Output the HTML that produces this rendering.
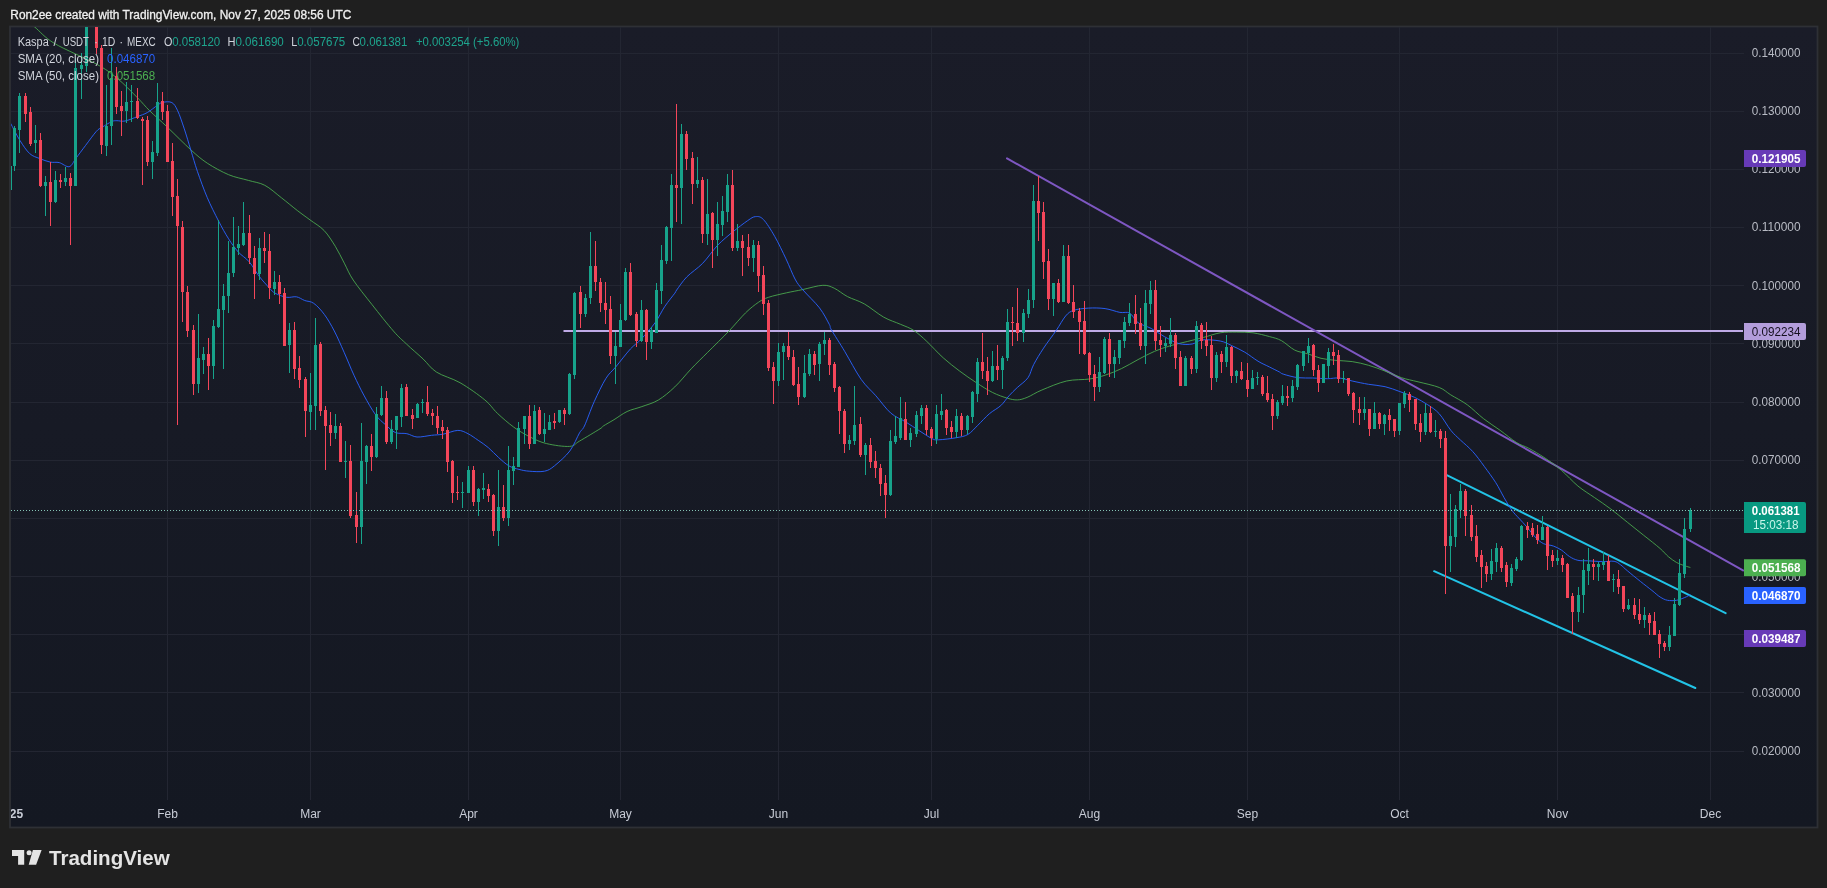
<!DOCTYPE html>
<html lang="en"><head><meta charset="utf-8"><title>Kaspa / USDT chart</title>
<style>
html,body{margin:0;padding:0;background:#1f1f1f;}
body{width:1827px;height:888px;overflow:hidden;}
svg{display:block;will-change:transform;}
text{font-family:"Liberation Sans", sans-serif;}
</style></head><body>
<svg width="1827" height="888" viewBox="0 0 1827 888">
<defs>
<linearGradient id="bg" x1="0" y1="0" x2="0" y2="1"><stop offset="0" stop-color="#1a1c28"/><stop offset="1" stop-color="#141822"/></linearGradient>
<clipPath id="pane"><rect x="11" y="27" width="1733" height="773"/></clipPath>
<clipPath id="full"><rect x="11" y="27" width="1806" height="800"/></clipPath>
</defs>
<rect width="1827" height="888" fill="#1f1f1f"/>
<rect x="10" y="26.5" width="1807.5" height="801" fill="url(#bg)" stroke="#2e3035" stroke-width="1.8"/>

<g stroke="#232632" stroke-width="1" shape-rendering="crispEdges">
<line x1="167.5" y1="27" x2="167.5" y2="800"/>
<line x1="310.5" y1="27" x2="310.5" y2="800"/>
<line x1="468.5" y1="27" x2="468.5" y2="800"/>
<line x1="620.5" y1="27" x2="620.5" y2="800"/>
<line x1="778.5" y1="27" x2="778.5" y2="800"/>
<line x1="931.5" y1="27" x2="931.5" y2="800"/>
<line x1="1089.5" y1="27" x2="1089.5" y2="800"/>
<line x1="1247.5" y1="27" x2="1247.5" y2="800"/>
<line x1="1399.5" y1="27" x2="1399.5" y2="800"/>
<line x1="1557.5" y1="27" x2="1557.5" y2="800"/>
<line x1="1710.5" y1="27" x2="1710.5" y2="800"/>
<line x1="11" y1="751.5" x2="1744" y2="751.5"/>
<line x1="11" y1="692.5" x2="1744" y2="692.5"/>
<line x1="11" y1="634.5" x2="1744" y2="634.5"/>
<line x1="11" y1="576.5" x2="1744" y2="576.5"/>
<line x1="11" y1="518.5" x2="1744" y2="518.5"/>
<line x1="11" y1="460.5" x2="1744" y2="460.5"/>
<line x1="11" y1="402.5" x2="1744" y2="402.5"/>
<line x1="11" y1="343.5" x2="1744" y2="343.5"/>
<line x1="11" y1="285.5" x2="1744" y2="285.5"/>
<line x1="11" y1="227.5" x2="1744" y2="227.5"/>
<line x1="11" y1="169.5" x2="1744" y2="169.5"/>
<line x1="11" y1="111.5" x2="1744" y2="111.5"/>
<line x1="11" y1="53.5" x2="1744" y2="53.5"/>
</g>
<g clip-path="url(#pane)" fill="none" stroke-linejoin="round" stroke-linecap="round">
<line x1="563.5" y1="331" x2="1743" y2="331" stroke="#bfaae6" stroke-width="2" stroke-linecap="butt"/>
<line x1="1007" y1="158.4" x2="1743" y2="570.4" stroke="#7e57c2" stroke-width="2"/>
<line x1="1447.3" y1="475.3" x2="1725.6" y2="613.2" stroke="#22c3e6" stroke-width="2"/>
<line x1="1434.1" y1="571.2" x2="1695.3" y2="688" stroke="#22c3e6" stroke-width="2"/>
<path d="M20.0 15.0C22.4 17.0 29.0 22.3 34.7 27.0C40.4 31.7 44.1 37.2 54.4 43.4C64.7 49.6 85.9 58.2 96.3 64.0C106.7 69.8 110.1 72.4 116.9 78.0C123.8 83.6 131.9 92.2 137.4 97.7C142.9 103.2 144.7 105.9 149.7 110.8C154.7 115.7 160.7 120.8 167.5 127.3C174.3 133.8 184.2 143.8 190.8 149.8C197.4 155.8 201.0 159.0 207.3 163.2C213.6 167.3 221.8 171.8 228.6 174.7C235.4 177.6 242.4 178.6 248.4 180.4C254.4 182.2 259.3 182.4 264.8 185.3C270.3 188.2 275.8 193.4 281.3 197.7C286.8 201.9 292.9 207.1 297.7 210.8C302.5 214.5 305.6 216.6 310.0 219.9C314.4 223.2 319.9 226.1 324.1 230.5C328.3 234.9 331.9 240.9 335.3 246.3C338.7 251.8 341.3 257.6 344.3 263.2C347.3 268.8 348.6 273.1 353.2 280.0C357.8 286.9 365.4 296.2 372.1 304.7C378.8 313.2 387.6 324.4 393.4 331.0C399.1 337.6 401.7 339.5 406.6 344.1C411.5 348.8 418.0 354.2 423.0 358.9C428.0 363.6 430.3 368.1 436.5 372.1C442.7 376.1 451.9 378.1 460.0 382.7C468.1 387.3 478.7 394.9 484.9 400.0C491.1 405.1 492.5 408.7 497.3 413.2C502.1 417.7 508.2 423.1 513.7 427.1C519.2 431.1 524.6 434.2 530.1 437.0C535.6 439.8 540.0 442.0 546.6 443.6C553.2 445.2 564.1 446.8 569.6 446.4C575.1 446.0 574.4 444.0 579.5 441.1C584.6 438.2 596.0 431.3 600.0 428.8C604.0 426.3 601.0 427.5 603.3 426.0C605.6 424.5 610.0 422.1 614.0 419.7C618.0 417.3 622.5 413.7 627.1 411.5C631.8 409.3 636.7 408.5 641.9 406.6C647.1 404.7 652.9 403.3 658.4 400.0C663.9 396.7 669.3 392.1 674.8 386.9C680.3 381.7 685.7 374.6 691.2 368.8C696.7 363.0 701.4 358.6 707.7 352.3C714.0 346.0 722.7 337.6 729.0 331.0C735.3 324.4 740.6 317.7 745.5 312.9C750.4 308.1 754.8 304.8 758.6 302.2C762.4 299.6 763.8 298.9 768.5 297.3C773.2 295.7 780.9 294.1 786.6 292.8C792.4 291.5 797.0 290.8 803.0 289.5C809.0 288.2 817.6 285.5 822.8 285.3C828.0 285.1 830.1 286.3 834.2 288.2C838.3 290.1 842.5 294.0 847.5 296.6C852.5 299.2 858.3 300.5 864.3 303.9C870.3 307.3 877.6 313.7 883.6 317.1C889.6 320.5 895.5 322.1 900.5 324.3C905.5 326.5 909.3 327.5 913.7 330.4C918.1 333.3 922.0 336.9 926.9 341.5C931.8 346.1 937.8 353.0 943.3 357.9C948.8 362.8 954.2 367.0 959.7 371.1C965.2 375.2 970.7 379.0 976.2 382.6C981.7 386.2 987.4 389.9 992.6 392.5C997.8 395.1 1003.3 397.0 1007.4 398.2C1011.5 399.4 1014.0 400.0 1017.3 399.9C1020.6 399.8 1023.0 399.0 1027.1 397.4C1031.2 395.8 1035.3 392.7 1041.9 390.0C1048.5 387.3 1058.6 382.8 1066.6 381.0C1074.5 379.2 1083.2 380.0 1089.6 379.0C1096.0 378.0 1099.8 376.9 1105.1 375.2C1110.4 373.5 1116.0 371.2 1121.5 368.6C1127.0 366.0 1132.5 362.5 1138.0 359.6C1143.5 356.7 1148.9 353.7 1154.4 351.4C1159.9 349.1 1165.3 347.2 1170.8 345.6C1176.3 344.0 1181.8 342.9 1187.3 341.5C1192.8 340.1 1198.2 338.8 1203.7 337.4C1209.2 335.9 1214.7 333.7 1220.2 332.8C1225.7 331.9 1231.1 332.1 1236.6 332.1C1242.1 332.1 1247.5 332.1 1253.0 332.8C1258.5 333.6 1264.8 335.3 1269.5 336.6C1274.2 337.9 1277.3 338.4 1281.5 340.7C1285.7 342.9 1290.3 347.9 1294.7 350.1C1299.1 352.3 1303.4 352.4 1307.8 353.8C1312.2 355.2 1316.3 357.2 1321.0 358.3C1325.7 359.4 1330.6 359.8 1335.8 360.4C1341.0 360.9 1346.7 360.8 1352.2 361.6C1357.7 362.4 1363.1 363.7 1368.6 365.3C1374.1 366.9 1379.6 369.0 1385.1 371.1C1390.6 373.2 1396.0 375.9 1401.5 377.7C1407.0 379.5 1411.7 380.2 1418.0 381.8C1424.3 383.4 1433.8 385.3 1439.3 387.5C1444.8 389.7 1446.1 392.0 1450.8 394.9C1455.5 397.8 1461.8 400.8 1467.3 404.8C1472.8 408.8 1478.2 414.6 1483.7 418.8C1489.2 423.1 1494.6 426.3 1500.1 430.3C1505.6 434.3 1511.8 439.6 1516.6 442.6C1521.3 445.6 1523.8 445.6 1528.6 448.2C1533.3 450.8 1539.6 454.4 1545.1 458.1C1550.6 461.8 1556.0 465.8 1561.5 470.4C1567.0 475.0 1572.4 481.5 1577.9 486.0C1583.4 490.5 1588.9 493.7 1594.4 497.5C1599.9 501.3 1605.3 504.9 1610.8 509.0C1616.3 513.1 1621.8 517.8 1627.3 522.2C1632.8 526.6 1638.2 530.9 1643.7 535.3C1649.2 539.7 1656.0 544.9 1660.1 548.5C1664.2 552.1 1665.7 554.4 1668.4 556.7C1671.2 559.0 1673.9 561.0 1676.6 562.5C1679.3 564.0 1682.6 565.0 1684.8 565.8C1687.0 566.6 1689.1 567.1 1690.0 567.4" stroke="#4caf50" stroke-width="1" opacity="0.85"/>
<path d="M4.0 112.0C5.0 113.7 7.3 117.6 10.0 122.3C12.7 127.0 16.6 135.2 19.9 140.4C23.2 145.6 26.4 150.6 29.7 153.6C33.0 156.6 36.2 157.1 39.6 158.5C43.0 159.9 47.0 161.4 50.3 162.1C53.6 162.8 56.1 161.8 59.3 162.6C62.4 163.4 66.5 167.4 69.2 166.7C72.0 166.0 73.1 162.1 75.8 158.5C78.5 154.9 82.2 149.9 85.6 145.4C89.0 140.9 93.6 134.4 96.3 131.4C99.0 128.4 99.4 128.9 102.0 127.3C104.6 125.6 109.4 122.6 111.9 121.5C114.4 120.4 114.7 120.8 116.9 120.7C119.1 120.6 121.7 121.7 125.1 121.0C128.5 120.3 133.7 118.0 137.4 116.6C141.1 115.2 144.0 114.4 147.4 112.5C150.8 110.6 155.0 106.8 157.6 105.1C160.2 103.4 160.5 102.7 162.9 102.3C165.3 101.9 169.4 101.2 171.9 102.6C174.4 104.0 175.6 106.4 177.7 110.8C179.8 115.2 182.1 122.4 184.3 128.9C186.5 135.4 188.6 142.9 190.8 150.0C193.0 157.1 194.7 163.5 197.4 171.4C200.2 179.3 203.8 189.5 207.3 197.7C210.8 205.9 214.9 213.8 218.4 220.7C221.9 227.5 225.3 233.6 228.6 238.8C231.9 244.0 234.9 248.2 238.3 252.0C241.7 255.8 245.7 257.7 249.2 261.8C252.7 265.9 256.0 272.2 259.4 276.6C262.8 281.0 266.8 285.2 269.4 288.0C272.0 290.8 272.2 291.6 275.1 293.2C278.0 294.8 283.1 296.7 286.6 297.3C290.2 297.9 293.4 296.3 296.4 296.8C299.4 297.3 301.8 299.4 304.7 300.5C307.6 301.6 310.4 301.0 313.7 303.3C317.0 305.6 321.0 309.9 324.4 314.5C327.8 319.1 331.0 324.7 334.3 331.0C337.6 337.3 340.8 344.9 344.1 352.3C347.4 359.7 350.7 368.2 354.0 375.3C357.3 382.4 360.2 388.5 363.8 395.1C367.4 401.7 372.0 409.9 375.6 414.8C379.2 419.7 382.2 421.8 385.5 424.7C388.8 427.6 391.7 431.0 395.3 432.5C398.9 434.0 403.3 432.9 406.9 433.7C410.5 434.4 412.9 436.7 417.0 437.0C421.1 437.3 427.2 435.8 431.5 435.3C435.8 434.8 438.6 435.0 443.0 434.2C447.4 433.4 453.6 430.5 457.8 430.4C462.0 430.3 464.6 432.0 468.0 433.7C471.4 435.4 474.8 438.0 478.2 440.3C481.6 442.6 485.0 444.8 488.4 447.7C491.8 450.6 495.2 454.5 498.6 457.5C502.0 460.5 505.4 463.8 508.8 465.8C512.2 467.8 515.6 468.5 519.0 469.4C522.4 470.3 525.0 470.9 529.2 471.2C533.5 471.5 540.3 472.1 544.5 471.2C548.7 470.3 550.3 469.2 554.5 465.8C558.7 462.4 565.6 456.5 569.8 451.0C574.0 445.5 577.1 437.1 579.5 432.9C581.9 428.7 581.9 431.2 584.4 426.0C586.9 420.8 590.6 409.6 594.2 401.7C597.8 393.8 602.2 384.4 605.8 378.6C609.4 372.8 611.5 372.0 615.6 367.1C619.7 362.2 626.1 353.6 630.4 349.0C634.6 344.4 637.0 343.6 641.1 339.2C645.2 334.8 651.1 328.2 655.1 322.7C659.1 317.2 661.6 311.2 664.9 306.3C668.2 301.4 672.8 295.9 674.8 293.2C676.8 290.5 674.7 292.7 676.7 290.0C678.7 287.3 682.5 281.3 686.8 276.9C691.1 272.5 697.5 268.6 702.6 263.4C707.7 258.1 712.5 250.7 717.5 245.4C722.5 240.2 727.8 236.0 732.8 231.9C737.8 227.8 743.9 223.2 747.7 220.6C751.5 218.0 752.9 216.8 755.5 216.6C758.1 216.4 760.2 216.2 763.4 219.5C766.6 222.8 770.9 229.8 774.7 236.4C778.5 243.0 782.6 251.8 786.0 258.9C789.4 266.0 792.2 273.8 795.0 279.0C797.8 284.2 798.9 285.2 803.0 290.0C807.1 294.8 815.1 302.2 819.5 307.9C823.9 313.6 827.3 320.7 829.3 324.4C831.3 328.1 828.9 325.5 831.5 330.0C834.1 334.5 839.8 343.2 844.7 351.4C849.6 359.6 855.9 371.9 861.1 379.3C866.3 386.7 871.0 390.2 875.9 395.8C880.8 401.4 885.7 408.6 890.7 413.0C895.7 417.4 901.4 419.2 906.0 422.1C910.6 425.0 914.3 427.6 918.6 430.3C922.9 433.0 928.5 436.9 931.8 438.5C935.1 440.1 934.3 439.9 938.4 439.8C942.5 439.7 951.5 438.6 956.4 437.7C961.3 436.8 964.4 436.5 968.0 434.4C971.6 432.3 974.2 428.7 977.8 425.3C981.3 421.9 985.5 417.1 989.3 413.8C993.1 410.5 997.5 408.6 1000.8 405.6C1004.1 402.6 1006.2 398.8 1009.0 395.8C1011.8 392.8 1014.1 390.5 1017.3 387.5C1020.5 384.5 1025.3 381.5 1028.0 377.7C1030.7 373.9 1031.1 369.4 1033.7 364.5C1036.3 359.6 1039.8 353.8 1043.6 348.1C1047.3 342.4 1052.5 335.9 1056.2 330.5C1059.9 325.1 1062.7 319.4 1065.6 316.0C1068.5 312.6 1070.0 311.6 1073.8 310.3C1077.6 309.0 1083.4 308.4 1088.6 308.1C1093.8 307.8 1099.9 307.9 1105.1 308.6C1110.3 309.3 1115.8 311.6 1119.9 312.4C1124.0 313.1 1126.7 311.4 1129.7 313.1C1132.7 314.8 1134.4 320.1 1138.0 322.6C1141.6 325.2 1146.7 326.1 1151.1 328.4C1155.5 330.7 1159.6 334.1 1164.3 336.6C1169.0 339.1 1174.3 342.4 1179.0 343.6C1183.7 344.8 1188.4 344.6 1192.2 344.0C1196.0 343.4 1197.4 340.4 1202.1 339.9C1206.8 339.4 1215.3 340.1 1220.2 341.0C1225.1 341.9 1227.6 343.7 1231.7 345.6C1235.8 347.5 1240.4 349.6 1244.8 352.2C1249.2 354.8 1253.9 358.7 1258.0 361.2C1262.1 363.7 1266.0 365.2 1269.5 367.0C1273.0 368.8 1277.0 370.7 1279.3 371.9C1281.6 373.1 1280.1 373.1 1283.2 374.1C1286.3 375.1 1293.2 377.1 1298.1 377.7C1303.0 378.3 1307.8 377.8 1312.7 378.0C1317.6 378.2 1323.1 378.7 1327.5 378.7C1331.9 378.7 1334.9 377.6 1339.0 378.0C1343.1 378.4 1347.3 379.9 1352.2 381.0C1357.1 382.1 1363.1 383.4 1368.6 384.3C1374.1 385.2 1379.9 385.5 1385.1 386.7C1390.3 387.9 1395.0 389.8 1399.9 391.6C1404.8 393.4 1410.1 395.2 1414.7 397.4C1419.3 399.6 1423.7 402.1 1427.8 404.8C1431.9 407.5 1435.5 409.6 1439.3 413.8C1443.1 418.1 1447.3 425.9 1450.8 430.3C1454.3 434.7 1456.8 436.5 1460.4 440.0C1464.1 443.5 1468.7 447.1 1472.7 451.5C1476.7 455.9 1480.4 461.1 1484.2 466.3C1488.0 471.5 1492.5 477.5 1495.8 482.7C1499.1 487.9 1501.3 492.8 1504.0 497.5C1506.7 502.2 1509.7 507.3 1512.2 510.7C1514.7 514.1 1516.3 515.4 1518.8 518.1C1521.3 520.8 1524.3 524.0 1527.0 527.1C1529.7 530.2 1532.5 534.2 1535.2 537.0C1537.9 539.8 1540.4 542.1 1543.4 543.6C1546.4 545.1 1550.3 544.9 1553.3 546.0C1556.3 547.1 1558.8 548.3 1561.5 550.1C1564.2 551.9 1567.0 555.0 1569.7 556.7C1572.4 558.4 1574.9 559.6 1577.9 560.3C1580.9 561.0 1583.7 560.6 1587.8 560.8C1591.9 561.0 1598.2 561.5 1602.6 561.6C1607.0 561.7 1611.1 560.8 1614.1 561.3C1617.1 561.8 1618.5 563.3 1620.7 564.9C1622.9 566.5 1624.0 568.0 1627.3 570.7C1630.6 573.5 1636.3 578.1 1640.4 581.4C1644.5 584.7 1648.6 587.8 1651.9 590.4C1655.2 593.0 1657.5 595.4 1660.1 597.0C1662.7 598.6 1664.8 599.8 1667.5 600.3C1670.2 600.8 1673.7 600.8 1676.6 600.3C1679.5 599.8 1682.6 598.4 1684.8 597.5C1687.0 596.6 1689.1 595.3 1690.0 594.9" stroke="#2962ff" stroke-width="1" opacity="0.92"/>
</g>
<g clip-path="url(#pane)" shape-rendering="crispEdges">
<rect x="14" y="126" width="1" height="45" fill="#17a38b"/>
<rect x="13" y="128" width="3" height="38" fill="#17a38b"/>
<rect x="19" y="93" width="1" height="60" fill="#17a38b"/>
<rect x="18" y="96" width="3" height="34" fill="#17a38b"/>
<rect x="25" y="93" width="1" height="29" fill="#f4465a"/>
<rect x="24" y="96" width="3" height="18" fill="#f4465a"/>
<rect x="30" y="107" width="1" height="39" fill="#f4465a"/>
<rect x="29" y="112" width="3" height="32" fill="#f4465a"/>
<rect x="35" y="125" width="1" height="28" fill="#17a38b"/>
<rect x="34" y="140" width="3" height="3" fill="#17a38b"/>
<rect x="40" y="133" width="1" height="54" fill="#f4465a"/>
<rect x="39" y="140" width="3" height="46" fill="#f4465a"/>
<rect x="45" y="176" width="1" height="40" fill="#17a38b"/>
<rect x="44" y="182" width="3" height="4" fill="#17a38b"/>
<rect x="50" y="162" width="1" height="64" fill="#f4465a"/>
<rect x="49" y="182" width="3" height="20" fill="#f4465a"/>
<rect x="55" y="171" width="1" height="32" fill="#17a38b"/>
<rect x="54" y="180" width="3" height="22" fill="#17a38b"/>
<rect x="60" y="174" width="1" height="14" fill="#f4465a"/>
<rect x="59" y="180" width="3" height="2" fill="#f4465a"/>
<rect x="65" y="167" width="1" height="19" fill="#17a38b"/>
<rect x="64" y="178" width="3" height="4" fill="#17a38b"/>
<rect x="70" y="173" width="1" height="72" fill="#f4465a"/>
<rect x="69" y="178" width="3" height="8" fill="#f4465a"/>
<rect x="75" y="58" width="1" height="128" fill="#17a38b"/>
<rect x="74" y="68" width="3" height="118" fill="#17a38b"/>
<rect x="81" y="53" width="1" height="46" fill="#17a38b"/>
<rect x="80" y="65" width="3" height="4" fill="#17a38b"/>
<rect x="86" y="0" width="1" height="72" fill="#17a38b"/>
<rect x="85" y="10" width="3" height="56" fill="#17a38b"/>
<rect x="96" y="0" width="1" height="54" fill="#f4465a"/>
<rect x="95" y="10" width="3" height="38" fill="#f4465a"/>
<rect x="101" y="45" width="1" height="109" fill="#f4465a"/>
<rect x="100" y="48" width="3" height="97" fill="#f4465a"/>
<rect x="106" y="85" width="1" height="71" fill="#17a38b"/>
<rect x="105" y="126" width="3" height="20" fill="#17a38b"/>
<rect x="111" y="48" width="1" height="97" fill="#17a38b"/>
<rect x="110" y="78" width="3" height="48" fill="#17a38b"/>
<rect x="116" y="67" width="1" height="47" fill="#f4465a"/>
<rect x="115" y="76" width="3" height="31" fill="#f4465a"/>
<rect x="121" y="91" width="1" height="45" fill="#f4465a"/>
<rect x="120" y="106" width="3" height="5" fill="#f4465a"/>
<rect x="126" y="82" width="1" height="41" fill="#17a38b"/>
<rect x="125" y="102" width="3" height="9" fill="#17a38b"/>
<rect x="131" y="85" width="1" height="37" fill="#17a38b"/>
<rect x="130" y="101" width="3" height="1" fill="#17a38b"/>
<rect x="137" y="88" width="1" height="31" fill="#f4465a"/>
<rect x="136" y="101" width="3" height="17" fill="#f4465a"/>
<rect x="142" y="117" width="1" height="68" fill="#f4465a"/>
<rect x="141" y="119" width="3" height="2" fill="#f4465a"/>
<rect x="147" y="116" width="1" height="50" fill="#f4465a"/>
<rect x="146" y="120" width="3" height="42" fill="#f4465a"/>
<rect x="152" y="141" width="1" height="38" fill="#17a38b"/>
<rect x="151" y="152" width="3" height="10" fill="#17a38b"/>
<rect x="157" y="83" width="1" height="73" fill="#17a38b"/>
<rect x="156" y="102" width="3" height="51" fill="#17a38b"/>
<rect x="162" y="92" width="1" height="28" fill="#f4465a"/>
<rect x="161" y="101" width="3" height="11" fill="#f4465a"/>
<rect x="167" y="105" width="1" height="57" fill="#f4465a"/>
<rect x="166" y="111" width="3" height="51" fill="#f4465a"/>
<rect x="172" y="143" width="1" height="73" fill="#f4465a"/>
<rect x="171" y="161" width="3" height="36" fill="#f4465a"/>
<rect x="177" y="179" width="1" height="246" fill="#f4465a"/>
<rect x="176" y="196" width="3" height="30" fill="#f4465a"/>
<rect x="182" y="221" width="1" height="101" fill="#f4465a"/>
<rect x="181" y="227" width="3" height="65" fill="#f4465a"/>
<rect x="187" y="286" width="1" height="51" fill="#f4465a"/>
<rect x="186" y="292" width="3" height="39" fill="#f4465a"/>
<rect x="193" y="325" width="1" height="70" fill="#f4465a"/>
<rect x="192" y="330" width="3" height="54" fill="#f4465a"/>
<rect x="198" y="314" width="1" height="79" fill="#17a38b"/>
<rect x="197" y="358" width="3" height="26" fill="#17a38b"/>
<rect x="203" y="347" width="1" height="27" fill="#17a38b"/>
<rect x="202" y="354" width="3" height="6" fill="#17a38b"/>
<rect x="208" y="338" width="1" height="52" fill="#f4465a"/>
<rect x="207" y="354" width="3" height="12" fill="#f4465a"/>
<rect x="213" y="320" width="1" height="59" fill="#17a38b"/>
<rect x="212" y="326" width="3" height="40" fill="#17a38b"/>
<rect x="218" y="220" width="1" height="108" fill="#17a38b"/>
<rect x="217" y="309" width="3" height="18" fill="#17a38b"/>
<rect x="223" y="284" width="1" height="85" fill="#17a38b"/>
<rect x="222" y="296" width="3" height="14" fill="#17a38b"/>
<rect x="228" y="241" width="1" height="72" fill="#17a38b"/>
<rect x="227" y="273" width="3" height="23" fill="#17a38b"/>
<rect x="233" y="217" width="1" height="60" fill="#17a38b"/>
<rect x="232" y="247" width="3" height="26" fill="#17a38b"/>
<rect x="238" y="226" width="1" height="29" fill="#17a38b"/>
<rect x="237" y="244" width="3" height="4" fill="#17a38b"/>
<rect x="243" y="202" width="1" height="44" fill="#17a38b"/>
<rect x="242" y="233" width="3" height="12" fill="#17a38b"/>
<rect x="249" y="215" width="1" height="49" fill="#f4465a"/>
<rect x="248" y="233" width="3" height="25" fill="#f4465a"/>
<rect x="254" y="246" width="1" height="53" fill="#f4465a"/>
<rect x="253" y="258" width="3" height="16" fill="#f4465a"/>
<rect x="259" y="238" width="1" height="42" fill="#17a38b"/>
<rect x="258" y="248" width="3" height="26" fill="#17a38b"/>
<rect x="264" y="232" width="1" height="31" fill="#f4465a"/>
<rect x="263" y="248" width="3" height="3" fill="#f4465a"/>
<rect x="269" y="234" width="1" height="65" fill="#f4465a"/>
<rect x="268" y="251" width="3" height="37" fill="#f4465a"/>
<rect x="274" y="271" width="1" height="24" fill="#17a38b"/>
<rect x="273" y="282" width="3" height="7" fill="#17a38b"/>
<rect x="279" y="275" width="1" height="29" fill="#f4465a"/>
<rect x="278" y="282" width="3" height="12" fill="#f4465a"/>
<rect x="284" y="288" width="1" height="58" fill="#f4465a"/>
<rect x="283" y="293" width="3" height="53" fill="#f4465a"/>
<rect x="289" y="323" width="1" height="50" fill="#17a38b"/>
<rect x="288" y="330" width="3" height="15" fill="#17a38b"/>
<rect x="294" y="322" width="1" height="57" fill="#f4465a"/>
<rect x="293" y="330" width="3" height="39" fill="#f4465a"/>
<rect x="299" y="356" width="1" height="32" fill="#f4465a"/>
<rect x="298" y="368" width="3" height="12" fill="#f4465a"/>
<rect x="305" y="377" width="1" height="60" fill="#f4465a"/>
<rect x="304" y="379" width="3" height="32" fill="#f4465a"/>
<rect x="310" y="373" width="1" height="57" fill="#17a38b"/>
<rect x="309" y="405" width="3" height="7" fill="#17a38b"/>
<rect x="315" y="318" width="1" height="112" fill="#17a38b"/>
<rect x="314" y="345" width="3" height="61" fill="#17a38b"/>
<rect x="320" y="342" width="1" height="74" fill="#f4465a"/>
<rect x="319" y="344" width="3" height="67" fill="#f4465a"/>
<rect x="325" y="406" width="1" height="64" fill="#f4465a"/>
<rect x="324" y="410" width="3" height="16" fill="#f4465a"/>
<rect x="330" y="412" width="1" height="34" fill="#f4465a"/>
<rect x="329" y="425" width="3" height="8" fill="#f4465a"/>
<rect x="335" y="414" width="1" height="25" fill="#17a38b"/>
<rect x="334" y="426" width="3" height="7" fill="#17a38b"/>
<rect x="340" y="423" width="1" height="39" fill="#f4465a"/>
<rect x="339" y="426" width="3" height="36" fill="#f4465a"/>
<rect x="345" y="441" width="1" height="37" fill="#17a38b"/>
<rect x="344" y="461" width="3" height="1" fill="#17a38b"/>
<rect x="350" y="445" width="1" height="73" fill="#f4465a"/>
<rect x="349" y="461" width="3" height="55" fill="#f4465a"/>
<rect x="356" y="492" width="1" height="51" fill="#f4465a"/>
<rect x="355" y="515" width="3" height="12" fill="#f4465a"/>
<rect x="361" y="423" width="1" height="121" fill="#17a38b"/>
<rect x="360" y="461" width="3" height="66" fill="#17a38b"/>
<rect x="366" y="445" width="1" height="39" fill="#17a38b"/>
<rect x="365" y="446" width="3" height="16" fill="#17a38b"/>
<rect x="371" y="434" width="1" height="37" fill="#f4465a"/>
<rect x="370" y="446" width="3" height="11" fill="#f4465a"/>
<rect x="376" y="407" width="1" height="51" fill="#17a38b"/>
<rect x="375" y="414" width="3" height="43" fill="#17a38b"/>
<rect x="381" y="386" width="1" height="30" fill="#17a38b"/>
<rect x="380" y="398" width="3" height="17" fill="#17a38b"/>
<rect x="386" y="391" width="1" height="53" fill="#f4465a"/>
<rect x="385" y="398" width="3" height="44" fill="#f4465a"/>
<rect x="391" y="420" width="1" height="24" fill="#17a38b"/>
<rect x="390" y="429" width="3" height="13" fill="#17a38b"/>
<rect x="396" y="416" width="1" height="33" fill="#17a38b"/>
<rect x="395" y="416" width="3" height="14" fill="#17a38b"/>
<rect x="401" y="384" width="1" height="43" fill="#17a38b"/>
<rect x="400" y="388" width="3" height="29" fill="#17a38b"/>
<rect x="406" y="384" width="1" height="32" fill="#f4465a"/>
<rect x="405" y="387" width="3" height="29" fill="#f4465a"/>
<rect x="412" y="409" width="1" height="20" fill="#f4465a"/>
<rect x="411" y="415" width="3" height="4" fill="#f4465a"/>
<rect x="417" y="403" width="1" height="15" fill="#17a38b"/>
<rect x="416" y="404" width="3" height="14" fill="#17a38b"/>
<rect x="422" y="399" width="1" height="14" fill="#17a38b"/>
<rect x="421" y="402" width="3" height="1" fill="#17a38b"/>
<rect x="427" y="386" width="1" height="30" fill="#f4465a"/>
<rect x="426" y="402" width="3" height="12" fill="#f4465a"/>
<rect x="432" y="409" width="1" height="16" fill="#f4465a"/>
<rect x="431" y="413" width="3" height="3" fill="#f4465a"/>
<rect x="437" y="406" width="1" height="28" fill="#f4465a"/>
<rect x="436" y="416" width="3" height="12" fill="#f4465a"/>
<rect x="442" y="420" width="1" height="19" fill="#f4465a"/>
<rect x="441" y="427" width="3" height="4" fill="#f4465a"/>
<rect x="447" y="427" width="1" height="45" fill="#f4465a"/>
<rect x="446" y="430" width="3" height="32" fill="#f4465a"/>
<rect x="452" y="460" width="1" height="43" fill="#f4465a"/>
<rect x="451" y="461" width="3" height="32" fill="#f4465a"/>
<rect x="457" y="476" width="1" height="24" fill="#f4465a"/>
<rect x="456" y="492" width="3" height="1" fill="#f4465a"/>
<rect x="462" y="482" width="1" height="26" fill="#17a38b"/>
<rect x="461" y="492" width="3" height="1" fill="#17a38b"/>
<rect x="468" y="466" width="1" height="27" fill="#17a38b"/>
<rect x="467" y="470" width="3" height="23" fill="#17a38b"/>
<rect x="473" y="466" width="1" height="40" fill="#f4465a"/>
<rect x="472" y="470" width="3" height="32" fill="#f4465a"/>
<rect x="478" y="488" width="1" height="28" fill="#17a38b"/>
<rect x="477" y="489" width="3" height="13" fill="#17a38b"/>
<rect x="483" y="473" width="1" height="26" fill="#17a38b"/>
<rect x="482" y="488" width="3" height="2" fill="#17a38b"/>
<rect x="488" y="484" width="1" height="18" fill="#f4465a"/>
<rect x="487" y="489" width="3" height="7" fill="#f4465a"/>
<rect x="493" y="494" width="1" height="42" fill="#f4465a"/>
<rect x="492" y="495" width="3" height="36" fill="#f4465a"/>
<rect x="498" y="470" width="1" height="76" fill="#17a38b"/>
<rect x="497" y="507" width="3" height="24" fill="#17a38b"/>
<rect x="503" y="485" width="1" height="36" fill="#f4465a"/>
<rect x="502" y="507" width="3" height="11" fill="#f4465a"/>
<rect x="508" y="446" width="1" height="80" fill="#17a38b"/>
<rect x="507" y="470" width="3" height="48" fill="#17a38b"/>
<rect x="513" y="457" width="1" height="28" fill="#17a38b"/>
<rect x="512" y="466" width="3" height="5" fill="#17a38b"/>
<rect x="518" y="422" width="1" height="45" fill="#17a38b"/>
<rect x="517" y="428" width="3" height="39" fill="#17a38b"/>
<rect x="524" y="416" width="1" height="28" fill="#17a38b"/>
<rect x="523" y="416" width="3" height="13" fill="#17a38b"/>
<rect x="529" y="405" width="1" height="44" fill="#f4465a"/>
<rect x="528" y="416" width="3" height="28" fill="#f4465a"/>
<rect x="534" y="405" width="1" height="39" fill="#17a38b"/>
<rect x="533" y="411" width="3" height="33" fill="#17a38b"/>
<rect x="539" y="407" width="1" height="28" fill="#f4465a"/>
<rect x="538" y="410" width="3" height="24" fill="#f4465a"/>
<rect x="544" y="413" width="1" height="29" fill="#17a38b"/>
<rect x="543" y="429" width="3" height="5" fill="#17a38b"/>
<rect x="549" y="415" width="1" height="15" fill="#17a38b"/>
<rect x="548" y="422" width="3" height="8" fill="#17a38b"/>
<rect x="554" y="413" width="1" height="16" fill="#f4465a"/>
<rect x="553" y="421" width="3" height="2" fill="#f4465a"/>
<rect x="559" y="410" width="1" height="13" fill="#17a38b"/>
<rect x="558" y="410" width="3" height="12" fill="#17a38b"/>
<rect x="564" y="408" width="1" height="17" fill="#f4465a"/>
<rect x="563" y="410" width="3" height="4" fill="#f4465a"/>
<rect x="569" y="373" width="1" height="42" fill="#17a38b"/>
<rect x="568" y="374" width="3" height="40" fill="#17a38b"/>
<rect x="574" y="292" width="1" height="87" fill="#17a38b"/>
<rect x="573" y="293" width="3" height="82" fill="#17a38b"/>
<rect x="580" y="286" width="1" height="42" fill="#f4465a"/>
<rect x="579" y="292" width="3" height="22" fill="#f4465a"/>
<rect x="585" y="294" width="1" height="23" fill="#17a38b"/>
<rect x="584" y="298" width="3" height="16" fill="#17a38b"/>
<rect x="590" y="232" width="1" height="72" fill="#17a38b"/>
<rect x="589" y="266" width="3" height="32" fill="#17a38b"/>
<rect x="595" y="241" width="1" height="50" fill="#f4465a"/>
<rect x="594" y="266" width="3" height="16" fill="#f4465a"/>
<rect x="600" y="278" width="1" height="34" fill="#f4465a"/>
<rect x="599" y="282" width="3" height="21" fill="#f4465a"/>
<rect x="605" y="282" width="1" height="42" fill="#f4465a"/>
<rect x="604" y="303" width="3" height="7" fill="#f4465a"/>
<rect x="610" y="296" width="1" height="68" fill="#f4465a"/>
<rect x="609" y="309" width="3" height="47" fill="#f4465a"/>
<rect x="615" y="332" width="1" height="52" fill="#17a38b"/>
<rect x="614" y="346" width="3" height="10" fill="#17a38b"/>
<rect x="620" y="304" width="1" height="43" fill="#17a38b"/>
<rect x="619" y="320" width="3" height="27" fill="#17a38b"/>
<rect x="625" y="268" width="1" height="53" fill="#17a38b"/>
<rect x="624" y="272" width="3" height="48" fill="#17a38b"/>
<rect x="630" y="263" width="1" height="53" fill="#f4465a"/>
<rect x="629" y="272" width="3" height="43" fill="#f4465a"/>
<rect x="636" y="312" width="1" height="35" fill="#f4465a"/>
<rect x="635" y="314" width="3" height="27" fill="#f4465a"/>
<rect x="641" y="300" width="1" height="42" fill="#17a38b"/>
<rect x="640" y="310" width="3" height="31" fill="#17a38b"/>
<rect x="646" y="309" width="1" height="51" fill="#f4465a"/>
<rect x="645" y="310" width="3" height="32" fill="#f4465a"/>
<rect x="651" y="327" width="1" height="22" fill="#17a38b"/>
<rect x="650" y="330" width="3" height="12" fill="#17a38b"/>
<rect x="656" y="283" width="1" height="50" fill="#17a38b"/>
<rect x="655" y="290" width="3" height="43" fill="#17a38b"/>
<rect x="661" y="245" width="1" height="59" fill="#17a38b"/>
<rect x="660" y="260" width="3" height="31" fill="#17a38b"/>
<rect x="666" y="226" width="1" height="38" fill="#17a38b"/>
<rect x="665" y="227" width="3" height="34" fill="#17a38b"/>
<rect x="671" y="174" width="1" height="87" fill="#17a38b"/>
<rect x="670" y="185" width="3" height="43" fill="#17a38b"/>
<rect x="676" y="104" width="1" height="118" fill="#f4465a"/>
<rect x="675" y="185" width="3" height="3" fill="#f4465a"/>
<rect x="681" y="124" width="1" height="100" fill="#17a38b"/>
<rect x="680" y="134" width="3" height="54" fill="#17a38b"/>
<rect x="686" y="131" width="1" height="39" fill="#f4465a"/>
<rect x="685" y="134" width="3" height="25" fill="#f4465a"/>
<rect x="692" y="152" width="1" height="52" fill="#f4465a"/>
<rect x="691" y="158" width="3" height="26" fill="#f4465a"/>
<rect x="697" y="157" width="1" height="31" fill="#17a38b"/>
<rect x="696" y="180" width="3" height="4" fill="#17a38b"/>
<rect x="702" y="177" width="1" height="66" fill="#f4465a"/>
<rect x="701" y="180" width="3" height="54" fill="#f4465a"/>
<rect x="707" y="179" width="1" height="66" fill="#17a38b"/>
<rect x="706" y="214" width="3" height="20" fill="#17a38b"/>
<rect x="712" y="212" width="1" height="56" fill="#f4465a"/>
<rect x="711" y="213" width="3" height="27" fill="#f4465a"/>
<rect x="717" y="202" width="1" height="54" fill="#17a38b"/>
<rect x="716" y="224" width="3" height="16" fill="#17a38b"/>
<rect x="722" y="196" width="1" height="40" fill="#17a38b"/>
<rect x="721" y="211" width="3" height="14" fill="#17a38b"/>
<rect x="727" y="174" width="1" height="48" fill="#17a38b"/>
<rect x="726" y="185" width="3" height="27" fill="#17a38b"/>
<rect x="732" y="170" width="1" height="81" fill="#f4465a"/>
<rect x="731" y="185" width="3" height="63" fill="#f4465a"/>
<rect x="737" y="224" width="1" height="27" fill="#17a38b"/>
<rect x="736" y="241" width="3" height="7" fill="#17a38b"/>
<rect x="742" y="235" width="1" height="41" fill="#f4465a"/>
<rect x="741" y="241" width="3" height="7" fill="#f4465a"/>
<rect x="748" y="234" width="1" height="32" fill="#f4465a"/>
<rect x="747" y="247" width="3" height="11" fill="#f4465a"/>
<rect x="753" y="240" width="1" height="32" fill="#17a38b"/>
<rect x="752" y="245" width="3" height="13" fill="#17a38b"/>
<rect x="758" y="241" width="1" height="51" fill="#f4465a"/>
<rect x="757" y="245" width="3" height="31" fill="#f4465a"/>
<rect x="763" y="266" width="1" height="49" fill="#f4465a"/>
<rect x="762" y="275" width="3" height="29" fill="#f4465a"/>
<rect x="768" y="300" width="1" height="71" fill="#f4465a"/>
<rect x="767" y="303" width="3" height="65" fill="#f4465a"/>
<rect x="773" y="362" width="1" height="42" fill="#f4465a"/>
<rect x="772" y="367" width="3" height="14" fill="#f4465a"/>
<rect x="778" y="343" width="1" height="43" fill="#17a38b"/>
<rect x="777" y="352" width="3" height="29" fill="#17a38b"/>
<rect x="783" y="343" width="1" height="37" fill="#17a38b"/>
<rect x="782" y="346" width="3" height="6" fill="#17a38b"/>
<rect x="788" y="332" width="1" height="28" fill="#f4465a"/>
<rect x="787" y="346" width="3" height="11" fill="#f4465a"/>
<rect x="793" y="350" width="1" height="36" fill="#f4465a"/>
<rect x="792" y="357" width="3" height="28" fill="#f4465a"/>
<rect x="798" y="367" width="1" height="38" fill="#f4465a"/>
<rect x="797" y="384" width="3" height="13" fill="#f4465a"/>
<rect x="804" y="355" width="1" height="43" fill="#17a38b"/>
<rect x="803" y="373" width="3" height="24" fill="#17a38b"/>
<rect x="809" y="349" width="1" height="27" fill="#17a38b"/>
<rect x="808" y="354" width="3" height="20" fill="#17a38b"/>
<rect x="814" y="351" width="1" height="24" fill="#f4465a"/>
<rect x="813" y="354" width="3" height="11" fill="#f4465a"/>
<rect x="819" y="342" width="1" height="39" fill="#17a38b"/>
<rect x="818" y="344" width="3" height="20" fill="#17a38b"/>
<rect x="824" y="332" width="1" height="23" fill="#17a38b"/>
<rect x="823" y="340" width="3" height="4" fill="#17a38b"/>
<rect x="829" y="338" width="1" height="37" fill="#f4465a"/>
<rect x="828" y="340" width="3" height="25" fill="#f4465a"/>
<rect x="834" y="362" width="1" height="30" fill="#f4465a"/>
<rect x="833" y="364" width="3" height="24" fill="#f4465a"/>
<rect x="839" y="386" width="1" height="48" fill="#f4465a"/>
<rect x="838" y="387" width="3" height="24" fill="#f4465a"/>
<rect x="844" y="409" width="1" height="44" fill="#f4465a"/>
<rect x="843" y="411" width="3" height="33" fill="#f4465a"/>
<rect x="849" y="435" width="1" height="15" fill="#17a38b"/>
<rect x="848" y="440" width="3" height="4" fill="#17a38b"/>
<rect x="854" y="386" width="1" height="59" fill="#17a38b"/>
<rect x="853" y="425" width="3" height="16" fill="#17a38b"/>
<rect x="860" y="417" width="1" height="40" fill="#f4465a"/>
<rect x="859" y="424" width="3" height="31" fill="#f4465a"/>
<rect x="865" y="443" width="1" height="32" fill="#17a38b"/>
<rect x="864" y="445" width="3" height="10" fill="#17a38b"/>
<rect x="870" y="438" width="1" height="30" fill="#f4465a"/>
<rect x="869" y="445" width="3" height="17" fill="#f4465a"/>
<rect x="875" y="451" width="1" height="27" fill="#f4465a"/>
<rect x="874" y="461" width="3" height="7" fill="#f4465a"/>
<rect x="880" y="464" width="1" height="32" fill="#f4465a"/>
<rect x="879" y="468" width="3" height="16" fill="#f4465a"/>
<rect x="885" y="475" width="1" height="43" fill="#f4465a"/>
<rect x="884" y="483" width="3" height="12" fill="#f4465a"/>
<rect x="890" y="430" width="1" height="66" fill="#17a38b"/>
<rect x="889" y="441" width="3" height="54" fill="#17a38b"/>
<rect x="895" y="416" width="1" height="28" fill="#17a38b"/>
<rect x="894" y="436" width="3" height="6" fill="#17a38b"/>
<rect x="900" y="397" width="1" height="43" fill="#17a38b"/>
<rect x="899" y="418" width="3" height="20" fill="#17a38b"/>
<rect x="905" y="402" width="1" height="38" fill="#f4465a"/>
<rect x="904" y="419" width="3" height="21" fill="#f4465a"/>
<rect x="910" y="428" width="1" height="19" fill="#17a38b"/>
<rect x="909" y="433" width="3" height="7" fill="#17a38b"/>
<rect x="916" y="411" width="1" height="26" fill="#17a38b"/>
<rect x="915" y="415" width="3" height="19" fill="#17a38b"/>
<rect x="921" y="405" width="1" height="19" fill="#17a38b"/>
<rect x="920" y="408" width="3" height="8" fill="#17a38b"/>
<rect x="926" y="405" width="1" height="30" fill="#f4465a"/>
<rect x="925" y="408" width="3" height="22" fill="#f4465a"/>
<rect x="931" y="427" width="1" height="19" fill="#f4465a"/>
<rect x="930" y="429" width="3" height="9" fill="#f4465a"/>
<rect x="936" y="405" width="1" height="39" fill="#17a38b"/>
<rect x="935" y="414" width="3" height="25" fill="#17a38b"/>
<rect x="941" y="394" width="1" height="26" fill="#17a38b"/>
<rect x="940" y="411" width="3" height="4" fill="#17a38b"/>
<rect x="946" y="409" width="1" height="26" fill="#f4465a"/>
<rect x="945" y="410" width="3" height="18" fill="#f4465a"/>
<rect x="951" y="421" width="1" height="17" fill="#f4465a"/>
<rect x="950" y="427" width="3" height="5" fill="#f4465a"/>
<rect x="956" y="409" width="1" height="29" fill="#17a38b"/>
<rect x="955" y="416" width="3" height="16" fill="#17a38b"/>
<rect x="961" y="413" width="1" height="23" fill="#f4465a"/>
<rect x="960" y="416" width="3" height="14" fill="#f4465a"/>
<rect x="967" y="415" width="1" height="19" fill="#17a38b"/>
<rect x="966" y="416" width="3" height="14" fill="#17a38b"/>
<rect x="972" y="391" width="1" height="32" fill="#17a38b"/>
<rect x="971" y="392" width="3" height="25" fill="#17a38b"/>
<rect x="977" y="358" width="1" height="44" fill="#17a38b"/>
<rect x="976" y="362" width="3" height="32" fill="#17a38b"/>
<rect x="982" y="333" width="1" height="46" fill="#f4465a"/>
<rect x="981" y="362" width="3" height="9" fill="#f4465a"/>
<rect x="987" y="357" width="1" height="38" fill="#f4465a"/>
<rect x="986" y="371" width="3" height="10" fill="#f4465a"/>
<rect x="992" y="351" width="1" height="31" fill="#17a38b"/>
<rect x="991" y="366" width="3" height="15" fill="#17a38b"/>
<rect x="997" y="345" width="1" height="35" fill="#f4465a"/>
<rect x="996" y="366" width="3" height="4" fill="#f4465a"/>
<rect x="1002" y="356" width="1" height="33" fill="#17a38b"/>
<rect x="1001" y="358" width="3" height="12" fill="#17a38b"/>
<rect x="1007" y="309" width="1" height="52" fill="#17a38b"/>
<rect x="1006" y="322" width="3" height="36" fill="#17a38b"/>
<rect x="1012" y="307" width="1" height="39" fill="#f4465a"/>
<rect x="1011" y="322" width="3" height="1" fill="#f4465a"/>
<rect x="1017" y="288" width="1" height="53" fill="#f4465a"/>
<rect x="1016" y="323" width="3" height="10" fill="#f4465a"/>
<rect x="1023" y="309" width="1" height="33" fill="#17a38b"/>
<rect x="1022" y="313" width="3" height="20" fill="#17a38b"/>
<rect x="1028" y="289" width="1" height="29" fill="#17a38b"/>
<rect x="1027" y="300" width="3" height="14" fill="#17a38b"/>
<rect x="1033" y="185" width="1" height="123" fill="#17a38b"/>
<rect x="1032" y="201" width="3" height="99" fill="#17a38b"/>
<rect x="1038" y="176" width="1" height="65" fill="#f4465a"/>
<rect x="1037" y="201" width="3" height="12" fill="#f4465a"/>
<rect x="1043" y="202" width="1" height="77" fill="#f4465a"/>
<rect x="1042" y="212" width="3" height="50" fill="#f4465a"/>
<rect x="1048" y="249" width="1" height="61" fill="#f4465a"/>
<rect x="1047" y="261" width="3" height="38" fill="#f4465a"/>
<rect x="1053" y="283" width="1" height="33" fill="#17a38b"/>
<rect x="1052" y="283" width="3" height="16" fill="#17a38b"/>
<rect x="1058" y="279" width="1" height="24" fill="#f4465a"/>
<rect x="1057" y="283" width="3" height="19" fill="#f4465a"/>
<rect x="1063" y="245" width="1" height="57" fill="#17a38b"/>
<rect x="1062" y="256" width="3" height="46" fill="#17a38b"/>
<rect x="1068" y="245" width="1" height="59" fill="#f4465a"/>
<rect x="1067" y="256" width="3" height="47" fill="#f4465a"/>
<rect x="1073" y="285" width="1" height="33" fill="#f4465a"/>
<rect x="1072" y="302" width="3" height="10" fill="#f4465a"/>
<rect x="1079" y="308" width="1" height="46" fill="#f4465a"/>
<rect x="1078" y="311" width="3" height="11" fill="#f4465a"/>
<rect x="1084" y="301" width="1" height="54" fill="#f4465a"/>
<rect x="1083" y="321" width="3" height="33" fill="#f4465a"/>
<rect x="1089" y="352" width="1" height="30" fill="#f4465a"/>
<rect x="1088" y="353" width="3" height="22" fill="#f4465a"/>
<rect x="1094" y="365" width="1" height="36" fill="#f4465a"/>
<rect x="1093" y="374" width="3" height="13" fill="#f4465a"/>
<rect x="1099" y="357" width="1" height="35" fill="#17a38b"/>
<rect x="1098" y="372" width="3" height="15" fill="#17a38b"/>
<rect x="1104" y="337" width="1" height="37" fill="#17a38b"/>
<rect x="1103" y="339" width="3" height="34" fill="#17a38b"/>
<rect x="1109" y="333" width="1" height="44" fill="#f4465a"/>
<rect x="1108" y="339" width="3" height="25" fill="#f4465a"/>
<rect x="1114" y="350" width="1" height="28" fill="#17a38b"/>
<rect x="1113" y="357" width="3" height="7" fill="#17a38b"/>
<rect x="1119" y="340" width="1" height="24" fill="#17a38b"/>
<rect x="1118" y="340" width="3" height="18" fill="#17a38b"/>
<rect x="1124" y="317" width="1" height="31" fill="#17a38b"/>
<rect x="1123" y="322" width="3" height="19" fill="#17a38b"/>
<rect x="1129" y="303" width="1" height="23" fill="#17a38b"/>
<rect x="1128" y="314" width="3" height="9" fill="#17a38b"/>
<rect x="1135" y="295" width="1" height="39" fill="#f4465a"/>
<rect x="1134" y="314" width="3" height="10" fill="#f4465a"/>
<rect x="1140" y="308" width="1" height="42" fill="#f4465a"/>
<rect x="1139" y="323" width="3" height="23" fill="#f4465a"/>
<rect x="1145" y="290" width="1" height="74" fill="#17a38b"/>
<rect x="1144" y="303" width="3" height="43" fill="#17a38b"/>
<rect x="1150" y="281" width="1" height="33" fill="#17a38b"/>
<rect x="1149" y="290" width="3" height="14" fill="#17a38b"/>
<rect x="1155" y="280" width="1" height="70" fill="#f4465a"/>
<rect x="1154" y="290" width="3" height="51" fill="#f4465a"/>
<rect x="1160" y="326" width="1" height="31" fill="#f4465a"/>
<rect x="1159" y="340" width="3" height="5" fill="#f4465a"/>
<rect x="1165" y="338" width="1" height="14" fill="#17a38b"/>
<rect x="1164" y="343" width="3" height="3" fill="#17a38b"/>
<rect x="1170" y="318" width="1" height="29" fill="#17a38b"/>
<rect x="1169" y="335" width="3" height="9" fill="#17a38b"/>
<rect x="1175" y="333" width="1" height="36" fill="#f4465a"/>
<rect x="1174" y="335" width="3" height="23" fill="#f4465a"/>
<rect x="1180" y="351" width="1" height="35" fill="#f4465a"/>
<rect x="1179" y="357" width="3" height="29" fill="#f4465a"/>
<rect x="1185" y="356" width="1" height="30" fill="#17a38b"/>
<rect x="1184" y="358" width="3" height="28" fill="#17a38b"/>
<rect x="1191" y="356" width="1" height="18" fill="#f4465a"/>
<rect x="1190" y="358" width="3" height="11" fill="#f4465a"/>
<rect x="1196" y="321" width="1" height="52" fill="#17a38b"/>
<rect x="1195" y="326" width="3" height="43" fill="#17a38b"/>
<rect x="1201" y="323" width="1" height="26" fill="#f4465a"/>
<rect x="1200" y="325" width="3" height="16" fill="#f4465a"/>
<rect x="1206" y="322" width="1" height="34" fill="#f4465a"/>
<rect x="1205" y="340" width="3" height="6" fill="#f4465a"/>
<rect x="1211" y="336" width="1" height="54" fill="#f4465a"/>
<rect x="1210" y="345" width="3" height="33" fill="#f4465a"/>
<rect x="1216" y="352" width="1" height="30" fill="#17a38b"/>
<rect x="1215" y="355" width="3" height="23" fill="#17a38b"/>
<rect x="1221" y="351" width="1" height="22" fill="#f4465a"/>
<rect x="1220" y="354" width="3" height="8" fill="#f4465a"/>
<rect x="1226" y="335" width="1" height="32" fill="#17a38b"/>
<rect x="1225" y="347" width="3" height="15" fill="#17a38b"/>
<rect x="1231" y="346" width="1" height="37" fill="#f4465a"/>
<rect x="1230" y="347" width="3" height="29" fill="#f4465a"/>
<rect x="1236" y="370" width="1" height="13" fill="#17a38b"/>
<rect x="1235" y="371" width="3" height="5" fill="#17a38b"/>
<rect x="1241" y="362" width="1" height="18" fill="#f4465a"/>
<rect x="1240" y="371" width="3" height="8" fill="#f4465a"/>
<rect x="1247" y="363" width="1" height="34" fill="#f4465a"/>
<rect x="1246" y="380" width="3" height="9" fill="#f4465a"/>
<rect x="1252" y="370" width="1" height="19" fill="#17a38b"/>
<rect x="1251" y="378" width="3" height="11" fill="#17a38b"/>
<rect x="1257" y="372" width="1" height="13" fill="#17a38b"/>
<rect x="1256" y="377" width="3" height="1" fill="#17a38b"/>
<rect x="1262" y="375" width="1" height="21" fill="#f4465a"/>
<rect x="1261" y="377" width="3" height="17" fill="#f4465a"/>
<rect x="1267" y="376" width="1" height="26" fill="#f4465a"/>
<rect x="1266" y="393" width="3" height="7" fill="#f4465a"/>
<rect x="1272" y="394" width="1" height="36" fill="#f4465a"/>
<rect x="1271" y="399" width="3" height="17" fill="#f4465a"/>
<rect x="1277" y="400" width="1" height="19" fill="#17a38b"/>
<rect x="1276" y="402" width="3" height="14" fill="#17a38b"/>
<rect x="1282" y="385" width="1" height="20" fill="#17a38b"/>
<rect x="1281" y="396" width="3" height="7" fill="#17a38b"/>
<rect x="1287" y="386" width="1" height="20" fill="#f4465a"/>
<rect x="1286" y="396" width="3" height="2" fill="#f4465a"/>
<rect x="1292" y="380" width="1" height="22" fill="#17a38b"/>
<rect x="1291" y="386" width="3" height="12" fill="#17a38b"/>
<rect x="1297" y="364" width="1" height="26" fill="#17a38b"/>
<rect x="1296" y="365" width="3" height="22" fill="#17a38b"/>
<rect x="1303" y="351" width="1" height="20" fill="#17a38b"/>
<rect x="1302" y="351" width="3" height="15" fill="#17a38b"/>
<rect x="1308" y="338" width="1" height="25" fill="#17a38b"/>
<rect x="1307" y="346" width="3" height="7" fill="#17a38b"/>
<rect x="1313" y="344" width="1" height="32" fill="#f4465a"/>
<rect x="1312" y="345" width="3" height="25" fill="#f4465a"/>
<rect x="1318" y="365" width="1" height="27" fill="#f4465a"/>
<rect x="1317" y="370" width="3" height="13" fill="#f4465a"/>
<rect x="1323" y="364" width="1" height="19" fill="#17a38b"/>
<rect x="1322" y="364" width="3" height="19" fill="#17a38b"/>
<rect x="1328" y="348" width="1" height="30" fill="#17a38b"/>
<rect x="1327" y="352" width="3" height="14" fill="#17a38b"/>
<rect x="1333" y="344" width="1" height="21" fill="#f4465a"/>
<rect x="1332" y="352" width="3" height="4" fill="#f4465a"/>
<rect x="1338" y="350" width="1" height="33" fill="#f4465a"/>
<rect x="1337" y="355" width="3" height="24" fill="#f4465a"/>
<rect x="1343" y="371" width="1" height="12" fill="#17a38b"/>
<rect x="1342" y="378" width="3" height="1" fill="#17a38b"/>
<rect x="1348" y="378" width="1" height="18" fill="#f4465a"/>
<rect x="1347" y="378" width="3" height="16" fill="#f4465a"/>
<rect x="1353" y="392" width="1" height="31" fill="#f4465a"/>
<rect x="1352" y="393" width="3" height="17" fill="#f4465a"/>
<rect x="1359" y="397" width="1" height="28" fill="#f4465a"/>
<rect x="1358" y="409" width="3" height="4" fill="#f4465a"/>
<rect x="1364" y="397" width="1" height="23" fill="#17a38b"/>
<rect x="1363" y="409" width="3" height="4" fill="#17a38b"/>
<rect x="1369" y="409" width="1" height="27" fill="#f4465a"/>
<rect x="1368" y="409" width="3" height="20" fill="#f4465a"/>
<rect x="1374" y="402" width="1" height="27" fill="#17a38b"/>
<rect x="1373" y="413" width="3" height="16" fill="#17a38b"/>
<rect x="1379" y="412" width="1" height="17" fill="#f4465a"/>
<rect x="1378" y="413" width="3" height="11" fill="#f4465a"/>
<rect x="1384" y="414" width="1" height="21" fill="#17a38b"/>
<rect x="1383" y="415" width="3" height="9" fill="#17a38b"/>
<rect x="1389" y="409" width="1" height="22" fill="#f4465a"/>
<rect x="1388" y="415" width="3" height="5" fill="#f4465a"/>
<rect x="1394" y="419" width="1" height="18" fill="#f4465a"/>
<rect x="1393" y="419" width="3" height="12" fill="#f4465a"/>
<rect x="1399" y="403" width="1" height="32" fill="#17a38b"/>
<rect x="1398" y="403" width="3" height="28" fill="#17a38b"/>
<rect x="1404" y="391" width="1" height="17" fill="#17a38b"/>
<rect x="1403" y="393" width="3" height="11" fill="#17a38b"/>
<rect x="1409" y="392" width="1" height="20" fill="#f4465a"/>
<rect x="1408" y="394" width="3" height="6" fill="#f4465a"/>
<rect x="1415" y="399" width="1" height="31" fill="#f4465a"/>
<rect x="1414" y="399" width="3" height="25" fill="#f4465a"/>
<rect x="1420" y="414" width="1" height="28" fill="#f4465a"/>
<rect x="1419" y="423" width="3" height="9" fill="#f4465a"/>
<rect x="1425" y="404" width="1" height="31" fill="#17a38b"/>
<rect x="1424" y="413" width="3" height="19" fill="#17a38b"/>
<rect x="1430" y="406" width="1" height="27" fill="#f4465a"/>
<rect x="1429" y="413" width="3" height="19" fill="#f4465a"/>
<rect x="1435" y="420" width="1" height="17" fill="#17a38b"/>
<rect x="1434" y="431" width="3" height="1" fill="#17a38b"/>
<rect x="1440" y="429" width="1" height="19" fill="#f4465a"/>
<rect x="1439" y="431" width="3" height="8" fill="#f4465a"/>
<rect x="1445" y="431" width="1" height="163" fill="#f4465a"/>
<rect x="1444" y="438" width="3" height="108" fill="#f4465a"/>
<rect x="1450" y="494" width="1" height="78" fill="#17a38b"/>
<rect x="1449" y="536" width="3" height="10" fill="#17a38b"/>
<rect x="1455" y="505" width="1" height="42" fill="#17a38b"/>
<rect x="1454" y="509" width="3" height="28" fill="#17a38b"/>
<rect x="1460" y="484" width="1" height="34" fill="#17a38b"/>
<rect x="1459" y="491" width="3" height="19" fill="#17a38b"/>
<rect x="1465" y="489" width="1" height="47" fill="#f4465a"/>
<rect x="1464" y="491" width="3" height="25" fill="#f4465a"/>
<rect x="1471" y="505" width="1" height="36" fill="#f4465a"/>
<rect x="1470" y="515" width="3" height="22" fill="#f4465a"/>
<rect x="1476" y="525" width="1" height="37" fill="#f4465a"/>
<rect x="1475" y="536" width="3" height="21" fill="#f4465a"/>
<rect x="1481" y="550" width="1" height="38" fill="#f4465a"/>
<rect x="1480" y="555" width="3" height="12" fill="#f4465a"/>
<rect x="1486" y="562" width="1" height="20" fill="#f4465a"/>
<rect x="1485" y="566" width="3" height="8" fill="#f4465a"/>
<rect x="1491" y="549" width="1" height="31" fill="#17a38b"/>
<rect x="1490" y="561" width="3" height="13" fill="#17a38b"/>
<rect x="1496" y="543" width="1" height="29" fill="#17a38b"/>
<rect x="1495" y="548" width="3" height="14" fill="#17a38b"/>
<rect x="1501" y="546" width="1" height="26" fill="#f4465a"/>
<rect x="1500" y="548" width="3" height="20" fill="#f4465a"/>
<rect x="1506" y="562" width="1" height="25" fill="#f4465a"/>
<rect x="1505" y="565" width="3" height="17" fill="#f4465a"/>
<rect x="1511" y="564" width="1" height="22" fill="#17a38b"/>
<rect x="1510" y="568" width="3" height="15" fill="#17a38b"/>
<rect x="1516" y="557" width="1" height="14" fill="#17a38b"/>
<rect x="1515" y="559" width="3" height="10" fill="#17a38b"/>
<rect x="1521" y="525" width="1" height="36" fill="#17a38b"/>
<rect x="1520" y="526" width="3" height="34" fill="#17a38b"/>
<rect x="1527" y="522" width="1" height="16" fill="#f4465a"/>
<rect x="1526" y="526" width="3" height="4" fill="#f4465a"/>
<rect x="1532" y="523" width="1" height="14" fill="#f4465a"/>
<rect x="1531" y="528" width="3" height="7" fill="#f4465a"/>
<rect x="1537" y="525" width="1" height="19" fill="#f4465a"/>
<rect x="1536" y="534" width="3" height="6" fill="#f4465a"/>
<rect x="1542" y="516" width="1" height="24" fill="#17a38b"/>
<rect x="1541" y="527" width="3" height="13" fill="#17a38b"/>
<rect x="1547" y="526" width="1" height="44" fill="#f4465a"/>
<rect x="1546" y="527" width="3" height="29" fill="#f4465a"/>
<rect x="1552" y="550" width="1" height="17" fill="#f4465a"/>
<rect x="1551" y="555" width="3" height="6" fill="#f4465a"/>
<rect x="1557" y="550" width="1" height="15" fill="#17a38b"/>
<rect x="1556" y="558" width="3" height="3" fill="#17a38b"/>
<rect x="1562" y="555" width="1" height="17" fill="#f4465a"/>
<rect x="1561" y="558" width="3" height="7" fill="#f4465a"/>
<rect x="1567" y="563" width="1" height="35" fill="#f4465a"/>
<rect x="1566" y="564" width="3" height="34" fill="#f4465a"/>
<rect x="1572" y="593" width="1" height="41" fill="#f4465a"/>
<rect x="1571" y="596" width="3" height="16" fill="#f4465a"/>
<rect x="1578" y="587" width="1" height="35" fill="#17a38b"/>
<rect x="1577" y="595" width="3" height="17" fill="#17a38b"/>
<rect x="1583" y="559" width="1" height="54" fill="#17a38b"/>
<rect x="1582" y="570" width="3" height="25" fill="#17a38b"/>
<rect x="1588" y="548" width="1" height="37" fill="#17a38b"/>
<rect x="1587" y="564" width="3" height="7" fill="#17a38b"/>
<rect x="1593" y="559" width="1" height="21" fill="#f4465a"/>
<rect x="1592" y="564" width="3" height="3" fill="#f4465a"/>
<rect x="1598" y="562" width="1" height="19" fill="#17a38b"/>
<rect x="1597" y="564" width="3" height="3" fill="#17a38b"/>
<rect x="1603" y="552" width="1" height="18" fill="#17a38b"/>
<rect x="1602" y="562" width="3" height="3" fill="#17a38b"/>
<rect x="1608" y="555" width="1" height="26" fill="#f4465a"/>
<rect x="1607" y="561" width="3" height="20" fill="#f4465a"/>
<rect x="1613" y="574" width="1" height="18" fill="#17a38b"/>
<rect x="1612" y="579" width="3" height="1" fill="#17a38b"/>
<rect x="1618" y="570" width="1" height="24" fill="#f4465a"/>
<rect x="1617" y="579" width="3" height="8" fill="#f4465a"/>
<rect x="1623" y="586" width="1" height="26" fill="#f4465a"/>
<rect x="1622" y="586" width="3" height="23" fill="#f4465a"/>
<rect x="1628" y="599" width="1" height="11" fill="#17a38b"/>
<rect x="1627" y="605" width="3" height="4" fill="#17a38b"/>
<rect x="1634" y="598" width="1" height="21" fill="#f4465a"/>
<rect x="1633" y="605" width="3" height="10" fill="#f4465a"/>
<rect x="1639" y="599" width="1" height="25" fill="#f4465a"/>
<rect x="1638" y="614" width="3" height="6" fill="#f4465a"/>
<rect x="1644" y="607" width="1" height="21" fill="#17a38b"/>
<rect x="1643" y="615" width="3" height="5" fill="#17a38b"/>
<rect x="1649" y="613" width="1" height="22" fill="#f4465a"/>
<rect x="1648" y="615" width="3" height="8" fill="#f4465a"/>
<rect x="1654" y="612" width="1" height="23" fill="#f4465a"/>
<rect x="1653" y="621" width="3" height="14" fill="#f4465a"/>
<rect x="1659" y="630" width="1" height="28" fill="#f4465a"/>
<rect x="1658" y="634" width="3" height="10" fill="#f4465a"/>
<rect x="1664" y="641" width="1" height="10" fill="#f4465a"/>
<rect x="1663" y="643" width="3" height="4" fill="#f4465a"/>
<rect x="1669" y="626" width="1" height="25" fill="#17a38b"/>
<rect x="1668" y="635" width="3" height="12" fill="#17a38b"/>
<rect x="1674" y="598" width="1" height="38" fill="#17a38b"/>
<rect x="1673" y="604" width="3" height="32" fill="#17a38b"/>
<rect x="1679" y="559" width="1" height="47" fill="#17a38b"/>
<rect x="1678" y="573" width="3" height="32" fill="#17a38b"/>
<rect x="1684" y="518" width="1" height="60" fill="#17a38b"/>
<rect x="1683" y="529" width="3" height="45" fill="#17a38b"/>
<rect x="1690" y="508" width="1" height="24" fill="#17a38b"/>
<rect x="1689" y="510" width="3" height="19" fill="#17a38b"/>
<rect x="11" y="166" width="1" height="24" fill="#17a38b"/>
</g>
<line x1="11" y1="510.5" x2="1744" y2="510.5" stroke="#84c4b5" stroke-width="1" stroke-dasharray="1 2" stroke-linecap="butt" shape-rendering="crispEdges"/>
<text x="10.3" y="18.6" font-size="12" font-weight="400" fill="#f0f0f0" stroke="#f0f0f0" stroke-width="0.3" textLength="341" lengthAdjust="spacingAndGlyphs">Ron2ee created with TradingView.com, Nov 27, 2025 08:56 UTC</text>
<text y="46.3" font-size="12" fill="#d1d4dc"><tspan x="17.7" textLength="31.1" lengthAdjust="spacingAndGlyphs">Kaspa</tspan> <tspan x="53.6">/</tspan> <tspan x="62.7" textLength="26" lengthAdjust="spacingAndGlyphs">USDT</tspan> <tspan x="94">·</tspan> <tspan x="102" textLength="13.3" lengthAdjust="spacingAndGlyphs">1D</tspan> <tspan x="119.2">·</tspan> <tspan x="127.1" textLength="28.7" lengthAdjust="spacingAndGlyphs">MEXC</tspan></text>
<text x="164" y="46.3" font-size="12" font-weight="400" fill="#d1d4dc" text-anchor="start" textLength="8.4" lengthAdjust="spacingAndGlyphs">O</text>
<text x="172.2" y="46.3" font-size="12" font-weight="400" fill="#1ea48d" text-anchor="start" textLength="48" lengthAdjust="spacingAndGlyphs">0.058120</text>
<text x="227.6" y="46.3" font-size="12" font-weight="400" fill="#d1d4dc" text-anchor="start" textLength="8" lengthAdjust="spacingAndGlyphs">H</text>
<text x="235.4" y="46.3" font-size="12" font-weight="400" fill="#1ea48d" text-anchor="start" textLength="48.4" lengthAdjust="spacingAndGlyphs">0.061690</text>
<text x="291.2" y="46.3" font-size="12" font-weight="400" fill="#d1d4dc" text-anchor="start" textLength="6" lengthAdjust="spacingAndGlyphs">L</text>
<text x="297.2" y="46.3" font-size="12" font-weight="400" fill="#1ea48d" text-anchor="start" textLength="48.1" lengthAdjust="spacingAndGlyphs">0.057675</text>
<text x="352.6" y="46.3" font-size="12" font-weight="400" fill="#d1d4dc" text-anchor="start" textLength="7.4" lengthAdjust="spacingAndGlyphs">C</text>
<text x="359.6" y="46.3" font-size="12" font-weight="400" fill="#1ea48d" text-anchor="start" textLength="47.7" lengthAdjust="spacingAndGlyphs">0.061381</text>
<text x="415.9" y="46.3" font-size="12" font-weight="400" fill="#1ea48d" text-anchor="start" textLength="103.5" lengthAdjust="spacingAndGlyphs">+0.003254 (+5.60%)</text>
<text x="17.7" y="63.4" font-size="12" font-weight="400" fill="#d1d4dc" text-anchor="start" textLength="81.3" lengthAdjust="spacingAndGlyphs">SMA (20, close)</text>
<text x="107" y="63.4" font-size="12" font-weight="400" fill="#2962ff" text-anchor="start" textLength="48.2" lengthAdjust="spacingAndGlyphs">0.046870</text>
<text x="17.7" y="80.3" font-size="12" font-weight="400" fill="#d1d4dc" text-anchor="start" textLength="81.3" lengthAdjust="spacingAndGlyphs">SMA (50, close)</text>
<text x="107" y="80.3" font-size="12" font-weight="400" fill="#4caf50" text-anchor="start" textLength="48.2" lengthAdjust="spacingAndGlyphs">0.051568</text>
<text x="1751.8" y="755.3" font-size="12" font-weight="400" fill="#b8bbc4" text-anchor="start" textLength="48.8" lengthAdjust="spacingAndGlyphs">0.020000</text>
<text x="1751.8" y="697.1" font-size="12" font-weight="400" fill="#b8bbc4" text-anchor="start" textLength="48.8" lengthAdjust="spacingAndGlyphs">0.030000</text>
<text x="1751.8" y="638.9" font-size="12" font-weight="400" fill="#b8bbc4" text-anchor="start" textLength="48.8" lengthAdjust="spacingAndGlyphs">0.040000</text>
<text x="1751.8" y="580.7" font-size="12" font-weight="400" fill="#b8bbc4" text-anchor="start" textLength="48.8" lengthAdjust="spacingAndGlyphs">0.050000</text>
<text x="1751.8" y="522.4" font-size="12" font-weight="400" fill="#b8bbc4" text-anchor="start" textLength="48.8" lengthAdjust="spacingAndGlyphs">0.060000</text>
<text x="1751.8" y="464.2" font-size="12" font-weight="400" fill="#b8bbc4" text-anchor="start" textLength="48.8" lengthAdjust="spacingAndGlyphs">0.070000</text>
<text x="1751.8" y="406.0" font-size="12" font-weight="400" fill="#b8bbc4" text-anchor="start" textLength="48.8" lengthAdjust="spacingAndGlyphs">0.080000</text>
<text x="1751.8" y="347.8" font-size="12" font-weight="400" fill="#b8bbc4" text-anchor="start" textLength="48.8" lengthAdjust="spacingAndGlyphs">0.090000</text>
<text x="1751.8" y="289.6" font-size="12" font-weight="400" fill="#b8bbc4" text-anchor="start" textLength="48.8" lengthAdjust="spacingAndGlyphs">0.100000</text>
<text x="1751.8" y="231.4" font-size="12" font-weight="400" fill="#b8bbc4" text-anchor="start" textLength="48.8" lengthAdjust="spacingAndGlyphs">0.110000</text>
<text x="1751.8" y="173.1" font-size="12" font-weight="400" fill="#b8bbc4" text-anchor="start" textLength="48.8" lengthAdjust="spacingAndGlyphs">0.120000</text>
<text x="1751.8" y="114.9" font-size="12" font-weight="400" fill="#b8bbc4" text-anchor="start" textLength="48.8" lengthAdjust="spacingAndGlyphs">0.130000</text>
<text x="1751.8" y="56.7" font-size="12" font-weight="400" fill="#b8bbc4" text-anchor="start" textLength="48.8" lengthAdjust="spacingAndGlyphs">0.140000</text>
<path d="M1744 150H1804a2 2 0 0 1 2 2V165a2 2 0 0 1 -2 2H1744Z" fill="#673ab7"/>
<text x="1751.8" y="162.8" font-size="12" font-weight="700" fill="#ffffff" text-anchor="start" textLength="48.8" lengthAdjust="spacingAndGlyphs">0.121905</text>
<path d="M1744 323H1804a2 2 0 0 1 2 2V338a2 2 0 0 1 -2 2H1744Z" fill="#b39ddb"/>
<text x="1751.8" y="335.8" font-size="12" font-weight="400" fill="#15101f" text-anchor="start" textLength="48.8" lengthAdjust="spacingAndGlyphs">0.092234</text>
<path d="M1744 502H1804a2 2 0 0 1 2 2V531a2 2 0 0 1 -2 2H1744Z" fill="#089981"/>
<text x="1751.8" y="514.8" font-size="12" font-weight="700" fill="#ffffff" text-anchor="start" textLength="47.8" lengthAdjust="spacingAndGlyphs">0.061381</text>
<text x="1753" y="528.8" font-size="12" font-weight="400" fill="#c9f5ea" text-anchor="start" textLength="45.6" lengthAdjust="spacingAndGlyphs">15:03:18</text>
<path d="M1744 559.3H1804a2 2 0 0 1 2 2V574.3a2 2 0 0 1 -2 2H1744Z" fill="#4caf50"/>
<text x="1751.8" y="572.1" font-size="12" font-weight="700" fill="#ffffff" text-anchor="start" textLength="48.8" lengthAdjust="spacingAndGlyphs">0.051568</text>
<path d="M1744 587H1804a2 2 0 0 1 2 2V602a2 2 0 0 1 -2 2H1744Z" fill="#2962ff"/>
<text x="1751.8" y="599.8" font-size="12" font-weight="700" fill="#ffffff" text-anchor="start" textLength="48.8" lengthAdjust="spacingAndGlyphs">0.046870</text>
<path d="M1744 630H1804a2 2 0 0 1 2 2V645a2 2 0 0 1 -2 2H1744Z" fill="#673ab7"/>
<text x="1751.8" y="642.8" font-size="12" font-weight="700" fill="#ffffff" text-anchor="start" textLength="48.8" lengthAdjust="spacingAndGlyphs">0.039487</text>
<g clip-path="url(#full)">
<text x="9.8" y="818.3" font-size="12" font-weight="700" fill="#c8ccd6" text-anchor="middle">2025</text>
</g>
<text x="167.5" y="818.3" font-size="12" font-weight="400" fill="#c8ccd6" text-anchor="middle">Feb</text>
<text x="310.5" y="818.3" font-size="12" font-weight="400" fill="#c8ccd6" text-anchor="middle">Mar</text>
<text x="468.5" y="818.3" font-size="12" font-weight="400" fill="#c8ccd6" text-anchor="middle">Apr</text>
<text x="620.5" y="818.3" font-size="12" font-weight="400" fill="#c8ccd6" text-anchor="middle">May</text>
<text x="778.5" y="818.3" font-size="12" font-weight="400" fill="#c8ccd6" text-anchor="middle">Jun</text>
<text x="931.5" y="818.3" font-size="12" font-weight="400" fill="#c8ccd6" text-anchor="middle">Jul</text>
<text x="1089.5" y="818.3" font-size="12" font-weight="400" fill="#c8ccd6" text-anchor="middle">Aug</text>
<text x="1247.5" y="818.3" font-size="12" font-weight="400" fill="#c8ccd6" text-anchor="middle">Sep</text>
<text x="1399.5" y="818.3" font-size="12" font-weight="400" fill="#c8ccd6" text-anchor="middle">Oct</text>
<text x="1557.5" y="818.3" font-size="12" font-weight="400" fill="#c8ccd6" text-anchor="middle">Nov</text>
<text x="1710.5" y="818.3" font-size="12" font-weight="400" fill="#c8ccd6" text-anchor="middle">Dec</text>
<g fill="#e4e4e4">
<path d="M12 850H24.2V864.8H18.1V856H12Z"/>
<circle cx="29.1" cy="852.8" r="2.5"/>
<path d="M32.9 850H41.6L36.1 864.8H28.7Z"/>
</g>
<text x="49" y="864.8" font-size="20.6" font-weight="700" fill="#e4e4e4" textLength="120.7" lengthAdjust="spacingAndGlyphs">TradingView</text>
</svg></body></html>
